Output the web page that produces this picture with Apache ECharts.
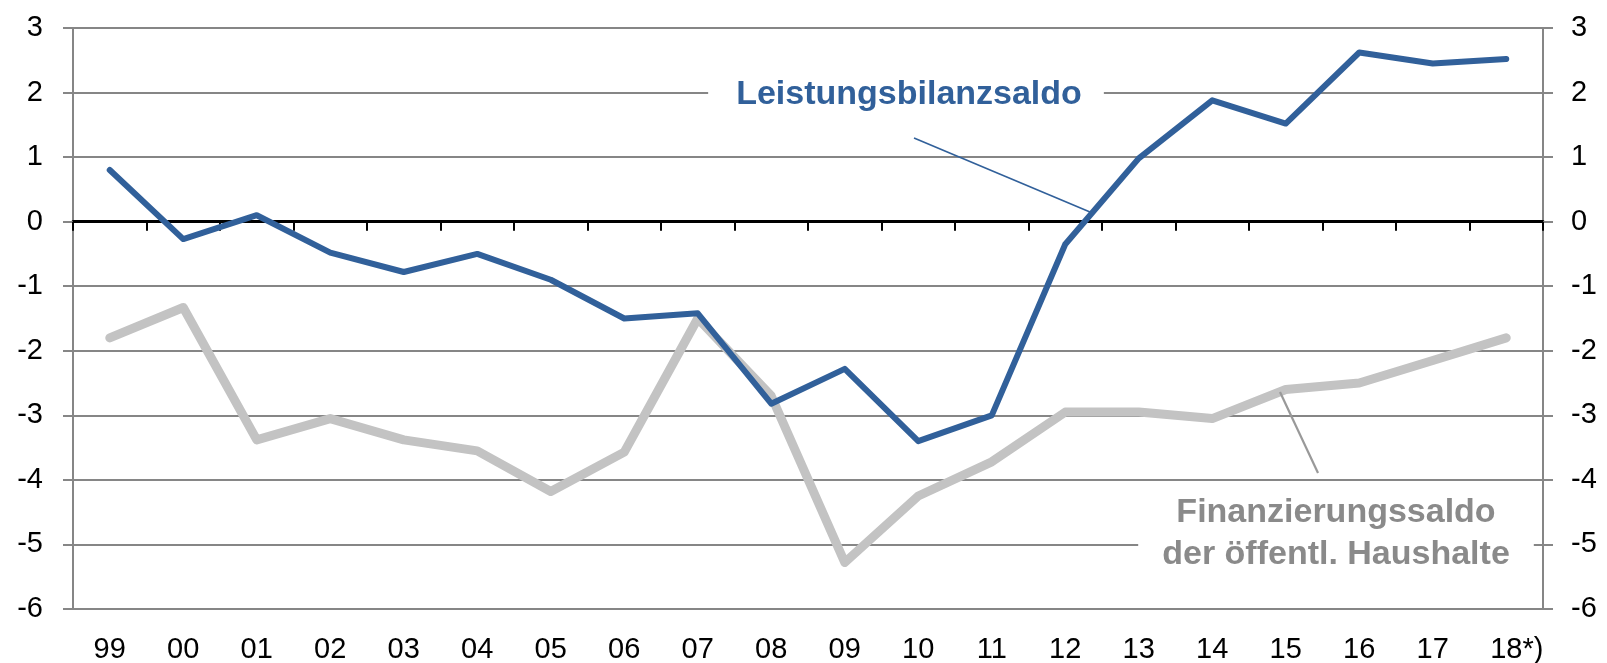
<!DOCTYPE html>
<html>
<head>
<meta charset="utf-8">
<script src="https://cdn.jsdelivr.net/npm/echarts@6/dist/echarts.min.js"></script>
<style>
  html, body { margin: 0; padding: 0; background: #fff; }
  #chart { width: 1607px; height: 663px; }
</style>
</head>
<body>
<div id="chart"></div>
<script>
// Jahre (Kategorien)
const years = ['99', '00', '01', '02', '03', '04', '05', '06', '07', '08',
  '09', '10', '11', '12', '13', '14', '15', '16', '17', '18*)']
// Leistungsbilanzsaldo
const leistungsbilanz = [0.8, -0.27, 0.1, -0.48, -0.78, -0.5, -0.9, -1.5, -1.42, -2.82,
  -2.28, -3.4, -3.0, -0.35, 0.98, 1.88, 1.52, 2.62, 2.45, 2.52]
// Finanzierungssaldo der öffentl. Haushalte
const finanzierung = [-1.8, -1.33, -3.38, -3.05, -3.38, -3.55, -4.18, -3.57, -1.5, -2.7,
  -5.28, -4.25, -3.72, -2.95, -2.95, -3.05, -2.6, -2.5, -2.15, -1.8]
const yTicks = {min: -6, max: 3, interval: 1}

const font = 'Liberation Sans, Arial, sans-serif'
const gridGray = '#868686'
const blue = '#31609a'
const lightGray = '#c3c3c3'

const chart = echarts.init(document.getElementById('chart'))

const yAxisBase = {
  type: 'value',
  min: yTicks.min,
  max: yTicks.max,
  interval: yTicks.interval,
  axisLine: {show: true, lineStyle: {color: gridGray, width: 2}},
  axisTick: {show: true, length: 10, lineStyle: {color: gridGray, width: 2}},
  axisLabel: {color: '#000', fontSize: 29, fontFamily: font}
}

const option = {
  backgroundColor: '#fff',
  animation: false,
  grid: {left: 73, right: 64, top: 28, bottom: 54, outerBoundsMode: 'none'},
  xAxis: [
    {
      type: 'category',
      data: years,
      position: 'bottom',
      axisLine: {show: false, onZero: false},
      axisTick: {show: false},
      axisLabel: {
        interval: 0,
        margin: 26,
        color: '#000',
        fontSize: 29,
        fontFamily: font,
        formatter: function (v) {
          return v.indexOf('*') > 0 ? '{s|}' + v : v
        },
        rich: {s: {width: 21}}
      }
    },
    {
      type: 'category',
      data: years,
      position: 'bottom',
      axisLine: {show: true, onZero: true, lineStyle: {color: '#000', width: 3}},
      axisTick: {show: true, length: 9, lineStyle: {color: '#000', width: 2}},
      axisLabel: {show: false}
    }
  ],
  yAxis: [
    Object.assign({}, yAxisBase, {
      position: 'left',
      splitLine: {show: true, lineStyle: {color: gridGray, width: 2}},
      axisLabel: Object.assign({}, yAxisBase.axisLabel, {margin: 30})
    }),
    Object.assign({}, yAxisBase, {
      position: 'right',
      splitLine: {show: false},
      axisLabel: Object.assign({}, yAxisBase.axisLabel, {margin: 28})
    })
  ],
  series: [
    {
      name: 'Finanzierungssaldo der öffentl. Haushalte',
      type: 'line',
      data: finanzierung,
      symbol: 'none',
      lineStyle: {color: lightGray, width: 9, cap: 'round', join: 'round'},
      z: 3
    },
    {
      name: 'Leistungsbilanzsaldo',
      type: 'line',
      data: leistungsbilanz,
      symbol: 'none',
      lineStyle: {color: blue, width: 6, cap: 'round', join: 'round'},
      z: 4
    }
  ],
  graphic: [
    {
      type: 'line',
      z: 10,
      shape: {x1: 914, y1: 138, x2: 1090, y2: 212},
      style: {stroke: blue, lineWidth: 1.6}
    },
    {
      type: 'text',
      z: 10,
      x: 906,
      y: 95,
      style: {
        text: 'Leistungsbilanzsaldo',
        fill: blue,
        font: 'bold 34px ' + font,
        align: 'center',
        verticalAlign: 'middle',
        backgroundColor: '#fff',
        padding: [2, 22, 2, 28]
      }
    },
    {
      type: 'line',
      z: 10,
      shape: {x1: 1280, y1: 392, x2: 1318, y2: 473},
      style: {stroke: '#999', lineWidth: 2.2}
    },
    {
      type: 'text',
      z: 10,
      x: 1336,
      y: 534,
      style: {
        text: 'Finanzierungssaldo\nder öffentl. Haushalte',
        fill: '#8a8a8a',
        font: 'bold 34px ' + font,
        align: 'center',
        verticalAlign: 'middle',
        lineHeight: 42,
        backgroundColor: '#fff',
        padding: [0, 24, 0, 24]
      }
    }
  ]
}

chart.setOption(option)
</script>
</body>
</html>
